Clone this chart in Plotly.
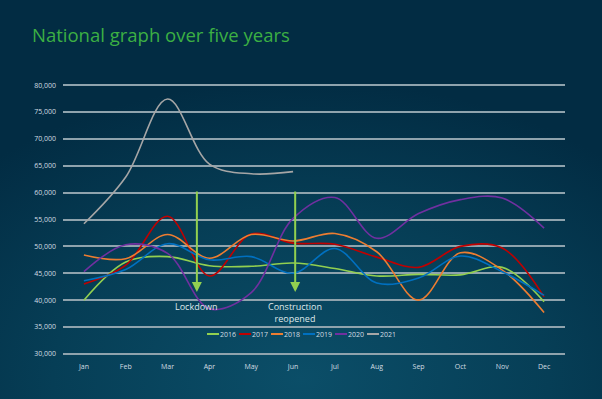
import base64
import plotly.graph_objects as go

months = ["Jan", "Feb", "Mar", "Apr", "May", "Jun", "Jul", "Aug", "Sep", "Oct", "Nov", "Dec"]
series_names = ["2016", "2017", "2018", "2019", "2020", "2021"]
series_colors = ["#92d050", "#c00000", "#ed7d31", "#0070c0", "#7030a0", "#a6a6a6"]

y2016 = [40000, 47100, 48100, 46400, 46300, 46900, 45900, 44500, 44800, 44700, 46100, 39700]
y2017 = [43000, 46500, 55600, 44500, 52300, 50600, 50400, 48000, 46100, 50000, 49700, 40600]
y2018 = [48400, 47700, 52200, 47800, 52200, 51000, 52400, 49000, 40000, 48800, 45600, 37700]
y2019 = [43600, 45700, 50500, 47500, 48100, 45000, 49600, 43200, 44100, 48200, 45300, 40900]
y2020 = [45300, 50300, 48700, 38400, 41400, 55200, 59100, 51500, 56100, 58700, 59000, 53400]
y2021 = [54200, 62900, 77400, 65300, 63500, 63900, None, None, None, None, None, None]
series_values = [y2016, y2017, y2018, y2019, y2020, y2021]

y_ticks = [30000, 35000, 40000, 45000, 50000, 55000, 60000, 65000, 70000, 75000, 80000]

events = ["Lockdown", "Construction<br>reopened"]
event_x = [2.7, 5.05]
event_top = [60500, 60500]
event_tip = [41500, 41500]

W, H = 602, 399
ml, mr, mt, mb = 63, 37, 84, 44
pw, ph = W - ml - mr, H - mt - mb

svg = f'''<svg xmlns="http://www.w3.org/2000/svg" width="{W}" height="{H}">
<defs><radialGradient id="g" cx="0.5" cy="0.95" r="0.75" fx="0.5" fy="0.95">
<stop offset="0" stop-color="#0b4e68"/><stop offset="0.55" stop-color="#063e56"/><stop offset="1" stop-color="#022c43"/>
</radialGradient></defs><rect width="{W}" height="{H}" fill="url(#g)"/></svg>'''
bg_uri = "data:image/svg+xml;base64," + base64.b64encode(svg.encode()).decode()

fig = go.Figure()
for name, color, vals in zip(series_names, series_colors, series_values):
    fig.add_trace(go.Scatter(
        x=list(range(len(months))), y=vals, name=name, mode="lines",
        line=dict(color=color, width=1.6, shape="spline", smoothing=1.0),
        connectgaps=False, showlegend=False,
    ))

# compact legend (short swatches like the reference)
leg_x0, leg_pitch, leg_y = 207, 32, 334
for i, (name, color) in enumerate(zip(series_names, series_colors)):
    x0 = leg_x0 + i * leg_pitch
    fig.add_shape(type="line", xref="paper", yref="paper",
                  x0=(x0 - ml) / pw, x1=(x0 + 12 - ml) / pw,
                  y0=(H - mb - leg_y) / ph, y1=(H - mb - leg_y) / ph,
                  line=dict(color=color, width=2))
    fig.add_annotation(xref="paper", yref="paper", x=(x0 + 12 - ml) / pw,
                       y=(H - mb - leg_y) / ph, text=name, showarrow=False,
                       xanchor="left", yanchor="middle",
                       font=dict(size=7, color="#d3dde2"), borderpad=0)

for txt, ex, top, tip in zip(events, event_x, event_top, event_tip):
    fig.add_annotation(x=ex, y=tip, ax=ex, ay=top, xref="x", yref="y", axref="x", ayref="y",
                       text="", showarrow=True, arrowhead=2, arrowsize=1, arrowwidth=2,
                       arrowcolor="#92d050")
    fig.add_annotation(x=ex, y=tip, xref="x", yref="y", text=txt, showarrow=False,
                       yanchor="top", yshift=-6, font=dict(size=9, color="#dfe7ea"))

fig.add_layout_image(dict(source=bg_uri, xref="paper", yref="paper",
                          x=-ml / pw, y=1 + mt / ph, sizex=W / pw, sizey=H / ph,
                          sizing="stretch", layer="below", xanchor="left", yanchor="top"))

fig.update_layout(
    width=W, height=H,
    margin=dict(l=ml, r=mr, t=mt, b=mb),
    paper_bgcolor="#03304a", plot_bgcolor="rgba(0,0,0,0)",
    font=dict(family="Open Sans", color="#d3dde2"),
    title=dict(text="National graph over five years", x=32 / W, xanchor="left",
               y=1 - 36 / H, yanchor="middle",
               font=dict(size=18.5, color="#3cb043", family="Open Sans")),
    showlegend=False,
    xaxis=dict(range=[-0.5, 11.5], tickvals=list(range(len(months))), ticktext=months,
               showgrid=False, zeroline=False, showline=False, ticks="",
               ticklabelstandoff=6, tickfont=dict(size=7, color="#d3dde2")),
    yaxis=dict(range=[29800, 80200], tickvals=y_ticks, tickformat=",",
               showgrid=True, gridcolor="#8fa3ad", gridwidth=1.5, zeroline=False,
               showline=False, ticks="", ticklabelstandoff=6,
               tickfont=dict(size=7, color="#d3dde2")),
)

fig.write_html("out.html", config={"displayModeBar": False},
               post_script="document.body.style.margin='0';document.body.style.padding='0';")
